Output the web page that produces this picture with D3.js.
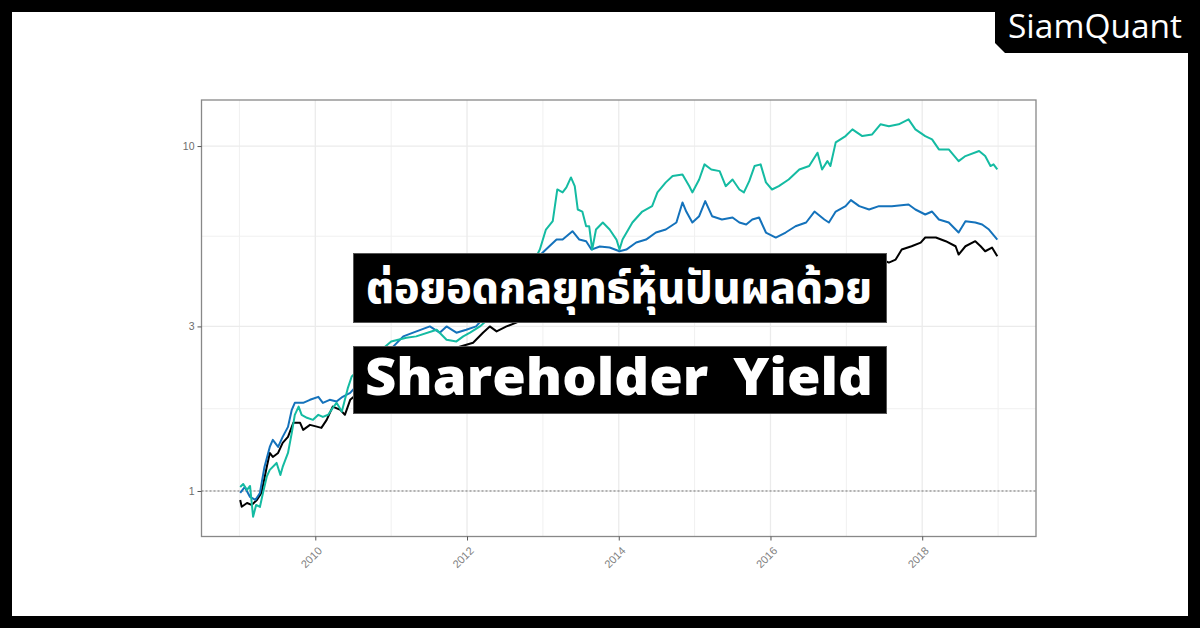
<!DOCTYPE html>
<html><head><meta charset="utf-8">
<script src="https://cdn.jsdelivr.net/npm/d3@7"></script>
<style>
html,body{margin:0;padding:0;background:#fff;}
svg{display:block;}
</style></head>
<body>
<svg id="chart" width="1200" height="628"></svg>
<script>
// ---- data (decimal year, growth of 1) ----
const tealSeries = [[2009.01,1.027],[2009.05,1.048],[2009.10,1.007],[2009.14,1.034],[2009.18,0.842],[2009.22,0.911],[2009.27,0.899],[2009.31,0.987],[2009.36,1.100],[2009.40,1.151],[2009.49,1.206],[2009.54,1.113],[2009.57,1.174],[2009.64,1.289],[2009.69,1.474],[2009.73,1.663],[2009.78,1.757],[2009.82,1.663],[2009.89,1.630],[2009.97,1.608],[2010.04,1.663],[2010.10,1.640],[2010.17,1.663],[2010.23,1.742],[2010.28,1.801],[2010.35,1.699],[2010.39,1.838],[2010.43,1.991],[2010.48,2.148],[2010.72,2.401],[2011.00,2.714],[2011.20,2.783],[2011.33,2.807],[2011.60,2.935],[2011.73,2.745],[2011.86,2.714],[2011.95,2.807],[2012.04,2.877],[2012.17,3.000],[2012.56,3.587],[2012.76,4.100],[2012.96,5.011],[2013.04,5.728],[2013.13,6.055],[2013.19,7.484],[2013.26,7.338],[2013.31,7.586],[2013.37,8.110],[2013.42,7.650],[2013.46,6.547],[2013.52,6.459],[2013.57,5.856],[2013.61,5.856],[2013.65,5.011],[2013.70,5.728],[2013.79,6.003],[2013.88,5.728],[2013.97,5.357],[2014.01,5.011],[2014.05,5.357],[2014.18,6.003],[2014.31,6.459],[2014.44,6.695],[2014.51,7.338],[2014.62,7.847],[2014.71,8.183],[2014.84,8.276],[2014.93,7.650],[2014.97,7.338],[2015.06,8.001],[2015.13,8.850],[2015.22,8.554],[2015.33,8.460],[2015.41,7.650],[2015.50,8.001],[2015.59,7.484],[2015.65,7.338],[2015.72,7.913],[2015.79,8.750],[2015.87,8.850],[2015.94,7.847],[2016.02,7.484],[2016.11,7.650],[2016.24,8.001],[2016.38,8.554],[2016.51,8.750],[2016.62,9.568],[2016.68,8.554],[2016.75,9.045],[2016.79,8.750],[2016.86,10.25],[2016.99,10.69],[2017.08,11.18],[2017.21,10.69],[2017.34,10.81],[2017.45,11.56],[2017.56,11.41],[2017.69,11.56],[2017.82,11.95],[2017.91,11.18],[2018.04,10.69],[2018.13,10.46],[2018.22,9.778],[2018.35,9.778],[2018.48,9.045],[2018.57,9.354],[2018.75,9.672],[2018.83,9.354],[2018.90,8.750],[2018.94,8.850],[2018.99,8.554]];

const blueSeries = [[2009.01,0.987],[2009.07,1.027],[2009.14,0.961],[2009.21,0.942],[2009.27,0.987],[2009.33,1.174],[2009.40,1.342],[2009.44,1.407],[2009.51,1.342],[2009.57,1.435],[2009.64,1.534],[2009.69,1.719],[2009.73,1.801],[2009.84,1.801],[2009.93,1.838],[2010.04,1.875],[2010.10,1.801],[2010.19,1.838],[2010.28,1.817],[2010.36,1.875],[2010.46,1.926],[2010.79,2.322],[2011.16,2.807],[2011.29,2.877],[2011.51,3.000],[2011.64,2.877],[2011.73,3.000],[2011.86,2.877],[2011.99,2.935],[2012.12,3.000],[2012.43,3.587],[2012.76,4.384],[2013.04,5.011],[2013.18,5.357],[2013.26,5.357],[2013.39,5.664],[2013.48,5.357],[2013.57,5.298],[2013.64,5.011],[2013.75,5.113],[2013.88,5.079],[2014.01,4.955],[2014.10,5.011],[2014.23,5.251],[2014.36,5.357],[2014.49,5.615],[2014.62,5.728],[2014.76,6.003],[2014.84,6.864],[2014.89,6.459],[2014.97,6.003],[2015.06,6.262],[2015.14,6.925],[2015.23,6.262],[2015.36,6.124],[2015.50,6.208],[2015.59,6.003],[2015.68,5.924],[2015.76,6.124],[2015.85,6.208],[2015.94,5.615],[2016.07,5.430],[2016.20,5.615],[2016.33,5.856],[2016.47,6.003],[2016.58,6.459],[2016.71,6.124],[2016.77,6.003],[2016.86,6.459],[2016.99,6.695],[2017.06,6.970],[2017.17,6.695],[2017.30,6.547],[2017.43,6.695],[2017.60,6.695],[2017.82,6.770],[2017.91,6.547],[2018.04,6.333],[2018.13,6.459],[2018.22,6.124],[2018.35,6.003],[2018.48,5.615],[2018.57,6.056],[2018.70,6.003],[2018.79,5.924],[2018.88,5.728],[2018.99,5.357]];

const blackSeries = [[2009.01,0.942],[2009.03,0.900],[2009.10,0.923],[2009.16,0.911],[2009.23,0.942],[2009.29,0.987],[2009.36,1.174],[2009.40,1.289],[2009.44,1.255],[2009.51,1.289],[2009.57,1.379],[2009.64,1.435],[2009.71,1.576],[2009.80,1.576],[2009.84,1.504],[2009.93,1.555],[2010.02,1.537],[2010.08,1.524],[2010.15,1.608],[2010.23,1.757],[2010.33,1.719],[2010.39,1.663],[2010.46,1.838],[2010.85,2.173],[2011.38,2.483],[2011.77,2.568],[2012.08,2.691],[2012.21,2.877],[2012.30,3.000],[2012.39,2.902],[2012.52,3.000],[2012.65,3.076],[2012.96,3.311],[2013.35,3.587],[2013.75,3.710],[2014.14,3.835],[2014.54,4.100],[2014.93,4.326],[2015.32,4.100],[2015.72,3.966],[2016.11,4.050],[2016.64,4.326],[2017.03,4.530],[2017.52,4.634],[2017.56,4.595],[2017.65,4.687],[2017.73,5.011],[2017.86,5.123],[2017.98,5.251],[2018.04,5.430],[2018.18,5.430],[2018.31,5.298],[2018.44,5.123],[2018.48,4.847],[2018.57,5.123],[2018.70,5.298],[2018.77,5.123],[2018.83,4.955],[2018.92,5.079],[2018.99,4.790]];

const yTicks = [1, 3, 10];
const yMinor = [Math.sqrt(3), Math.sqrt(30)];
const xTicks = [2010, 2012, 2014, 2016, 2018];
const xMinor = [2009, 2011, 2013, 2015, 2017, 2019];
const titleLine1 = "ต่อยอดกลยุทธ์หุ้นปันผลด้วย";
const titleLine2 = "Shareholder Yield";
const brand = "SiamQuant";

// ---- drawing ----
const svg = d3.select("#chart");
const P = {left: 201.5, right: 1036, top: 100, bottom: 536.5};
const x = d3.scaleLinear().domain([2008.5, 2019.5]).range([P.left, P.right]);
const y = d3.scaleLog().domain([0.738, 13.6]).range([P.bottom, P.top]);

const grid = svg.append("g");
grid.selectAll(".vmin").data(xMinor).join("line")
  .attr("x1", d => x(d)).attr("x2", d => x(d)).attr("y1", P.top).attr("y2", P.bottom)
  .attr("stroke", "#f0f0f0").attr("stroke-width", 1);
grid.selectAll(".hmin").data(yMinor).join("line")
  .attr("x1", P.left).attr("x2", P.right).attr("y1", d => y(d)).attr("y2", d => y(d))
  .attr("stroke", "#f0f0f0").attr("stroke-width", 1);
grid.selectAll(".vmaj").data(xTicks).join("line")
  .attr("x1", d => x(d)).attr("x2", d => x(d)).attr("y1", P.top).attr("y2", P.bottom)
  .attr("stroke", "#ebebeb").attr("stroke-width", 1.3);
grid.selectAll(".hmaj").data(yTicks).join("line")
  .attr("x1", P.left).attr("x2", P.right).attr("y1", d => y(d)).attr("y2", d => y(d))
  .attr("stroke", "#ebebeb").attr("stroke-width", 1.3);

// reference line at 1
svg.append("line").attr("x1", P.left).attr("x2", P.right).attr("y1", y(1)).attr("y2", y(1))
  .attr("stroke", "#555").attr("stroke-width", 0.8).attr("stroke-dasharray", "2,2");

const line = d3.line().x(d => x(d[0])).y(d => y(d[1]));
[[blackSeries, "#000000"], [blueSeries, "#1472bb"], [tealSeries, "#14bba2"]].forEach(([data, c]) => {
  svg.append("path").datum(data).attr("d", line).attr("fill", "none")
    .attr("stroke", c).attr("stroke-width", 2).attr("stroke-linejoin", "round");
});

// panel border
svg.append("rect").attr("x", P.left).attr("y", P.top).attr("width", P.right - P.left).attr("height", P.bottom - P.top)
  .attr("fill", "none").attr("stroke", "#888").attr("stroke-width", 1.3);

// axes
const yAxis = d3.axisLeft(y).tickValues(yTicks).tickFormat(d3.format("d")).tickSize(4).tickPadding(3);
const gy = svg.append("g").attr("transform", `translate(${P.left},0)`).call(yAxis);
gy.select(".domain").remove();
gy.selectAll("line").attr("stroke", "#555");
gy.selectAll("text").attr("fill", "#6d6d6d").style("font-family", "Liberation Sans, Arial, sans-serif").style("font-size", "10.5px");

const xAxis = d3.axisBottom(x).tickValues(xTicks).tickFormat(d3.format("d")).tickSize(4).tickPadding(2);
const gx = svg.append("g").attr("transform", `translate(0,${P.bottom})`).call(xAxis);
gx.select(".domain").remove();
gx.selectAll("line").attr("stroke", "#555");
gx.selectAll("text").attr("fill", "#808080").style("font-family", "Liberation Sans, Arial, sans-serif").style("font-size", "11px")
  .attr("text-anchor", "end").attr("x", 0).attr("y", 0).attr("dy", 0)
  .attr("transform", "translate(7,15) rotate(-45)");

// title boxes
const tb = svg.append("g");
tb.append("rect").attr("x", 353.5).attr("y", 253.5).attr("width", 533).attr("height", 69)
  .attr("fill", "#000").attr("stroke", "#555").attr("stroke-width", 1);
tb.append("text").attr("x", 366).attr("y", 303).text(titleLine1)
  .attr("fill", "#fff").style("font-family", "'Noto Sans Thai','Noto Sans','DejaVu Sans',sans-serif")
  .style("font-weight", "800").style("font-size", "45px")
  .attr("textLength", 506).attr("lengthAdjust", "spacingAndGlyphs");
tb.append("rect").attr("x", 353.5).attr("y", 346.5).attr("width", 533).attr("height", 67)
  .attr("fill", "#000").attr("stroke", "#555").attr("stroke-width", 1);
tb.append("text").attr("x", 365).attr("y", 395).text(titleLine2)
  .attr("fill", "#fff").style("font-family", "'Open Sans','Noto Sans',sans-serif")
  .style("font-weight", "800").style("font-size", "51px").style("word-spacing", "10px")
  .attr("textLength", 508).attr("lengthAdjust", "spacingAndGlyphs");

// frame
const F = 12;
svg.append("rect").attr("x", F/2).attr("y", F/2).attr("width", 1200 - F).attr("height", 628 - F)
  .attr("fill", "none").attr("stroke", "#000").attr("stroke-width", F);

// brand badge
svg.append("path").attr("d", "M995,0 H1200 V53 H1005 L995,43 Z").attr("fill", "#000");
svg.append("text").attr("x", 1008).attr("y", 38).text(brand)
  .attr("fill", "#fff").style("font-family", "'Open Sans','Noto Sans',sans-serif")
  .style("font-size", "32px").attr("textLength", 174).attr("lengthAdjust", "spacingAndGlyphs");
</script>
</body></html>
